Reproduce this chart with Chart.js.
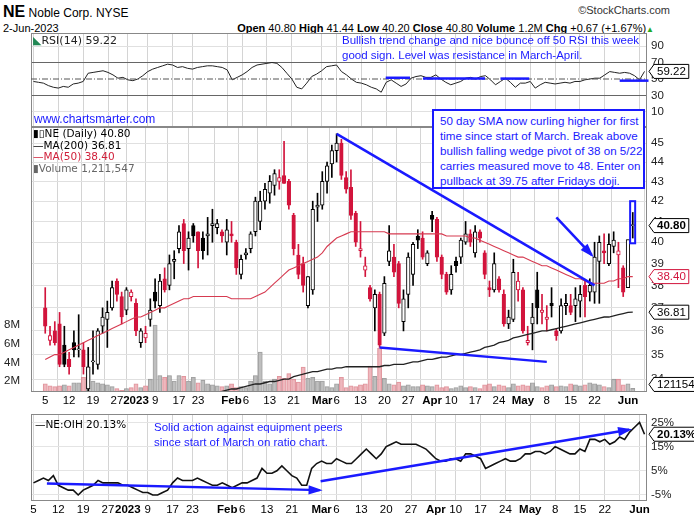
<!DOCTYPE html>
<html><head><meta charset="utf-8">
<script src="https://cdn.jsdelivr.net/npm/chart.js@4/dist/chart.umd.min.js"></script>
<style>
body{margin:0;width:694px;height:530px;background:#fff;font-family:"Liberation Sans",Arial,sans-serif;position:relative;overflow:hidden}
.p{position:absolute;left:0;width:694px}
.t{position:absolute;white-space:nowrap;color:#000}
.blue{color:#1a1aff}
</style></head><body>
<div class="t" style="left:3px;top:3px;font-size:12px"><b style="font-size:16px">NE</b> Noble Corp. NYSE</div>
<div class="t" style="left:3px;top:22px;font-size:11px">2-Jun-2023</div>
<div class="t" style="right:24px;top:4px;font-size:11px;color:#333">©StockCharts.com</div>
<div class="t" style="right:40px;top:22px;font-size:11px"><b>Open</b> 40.80 <b>High</b> 41.44 <b>Low</b> 40.20 <b>Close</b> 40.80 <b>Volume</b> 1.2M <b>Chg</b> +0.67 (+1.67%)<span style="color:#2a2;font-size:8px">▲</span></div>
<div class="p" style="top:33px;height:94px"><canvas id="c1"></canvas></div>
<div class="p" style="top:127px;height:283px"><canvas id="c2"></canvas></div>
<div class="p" style="top:414px;height:105px"><canvas id="c3"></canvas></div>
<div class="t" style="left:33px;top:34px;font-size:11px;font-family:'DejaVu Sans';color:#222"><span style="color:#285">◣</span>RSI(14) 59.22</div>
<div class="t blue" style="left:342px;top:33px;font-size:11.5px;line-height:15px">Bullish trend change and nice bounce off 50 RSI this week<br>good sign. Level was resistance in March-April.</div>
<div class="t blue" style="left:34px;top:112px;font-size:12px">www.chartsmarter.com</div>
<div class="t" style="left:33px;top:128px;font-size:10.5px;line-height:11.5px;font-family:'DejaVu Sans'">▮▯NE (Daily) 40.80<br>—MA(200) 36.81<br><span style="color:#d0203a">—MA(50) 38.40</span><br><span style="color:#666">▮Volume 1,211,547</span></div>
<div class="t blue" style="left:432px;top:109px;width:203px;height:74px;border:2px solid #1a1aff;background:#fff;font-size:11.6px;line-height:15px;padding:2px 0 0 6px">50 day SMA now curling higher for first<br>time since start of March. Break above<br>bullish falling wedge pivot of 38 on 5/22<br>carries measured move to 48. Enter on<br>pullback at 39.75 after Fridays doji.</div>
<div class="t" style="left:35px;top:418px;font-size:10.5px;font-family:'DejaVu Sans'">—NE:OIH 20.13%</div>
<div class="t blue" style="left:154px;top:420px;font-size:11.5px;line-height:15px">Solid action against equipment peers<br>since start of March on ratio chart.</div>
<script>
const tickIdx=[0,5,10,15,19,23,28,32,39,42,47,52,58,61,66,71,76,81,85,90,95,100,105,110,115,122];
const tickLabels=["5","12","19","27","2023","9","17","23","Feb","6","13","21","Mar","6","13","20","27","Apr","10","17","24","May","8","15","22","Jun"];
const boldLabels=["2023","Feb","Mar","Apr","May","Jun"];
// [open, high, low, close]
const candles=[
[37.0,37.9,35.9,36.2],[35.6,36.2,35.4,35.8],[36.0,36.4,35.4,35.5],[36.3,36.8,34.5,34.6],[35.4,36.2,34.5,34.6],
[34.8,35.1,34.2,34.5],[35.5,36.0,34.9,35.2],[35.2,36.7,34.9,35.2],[35.2,35.5,34.2,34.5],[33.6,35.3,33.5,34.5],
[34.7,36.0,34.2,34.7],[34.6,36.1,34.4,36.0],[36.2,37.0,35.9,36.6],[36.5,37.3,35.3,36.8],[37.0,38.2,36.9,37.9],
[38.2,38.3,37.3,37.6],[37.5,37.7,36.3,36.6],[36.9,37.9,36.7,37.8],[37.5,37.8,37.3,37.7],
[37.2,37.4,35.8,36.0],[35.5,36.1,35.3,36.0],[35.7,36.2,35.5,35.9],[36.5,37.4,36.2,36.9],[37.7,38.3,37.0,37.3],
[37.1,38.5,36.8,38.2],[38.3,38.8,37.7,37.8],[38.0,39.4,37.8,39.0],[39.1,39.6,38.3,39.2],[39.7,40.8,39.5,40.5],
[40.9,41.1,39.0,39.6],[39.7,40.5,38.7,40.2],[40.8,40.9,40.0,40.3],[40.5,40.5,38.8,39.6],[40.2,40.5,39.2,39.6],
[40.3,41.2,39.4,40.4],[40.8,41.6,40.0,40.9],[40.7,41.1,40.4,40.9],[40.5,40.6,40.0,40.3],[40.0,41.1,39.4,40.6],
[40.4,41.0,40.0,40.3],[40.0,40.1,38.5,38.8],[38.5,39.4,38.3,39.2],[39.4,39.7,39.2,39.5],[39.7,40.5,39.5,40.4],
[40.5,42.2,40.3,42.0],[41.0,42.5,40.6,42.0],[42.0,42.9,41.6,42.6],[42.4,43.3,41.9,43.0],[42.8,43.6,42.3,43.4],
[43.0,43.6,42.6,43.2],[43.3,45.1,42.9,42.9],[43.0,43.1,41.6,41.8],[41.3,41.4,39.4,39.7],[39.4,39.9,38.3,38.5],
[39.0,39.3,37.7,38.0],[37.1,38.4,37.0,38.4],[37.8,42.0,37.6,41.6],[41.7,42.4,41.0,41.8],
[41.8,43.5,41.6,43.0],[43.0,44.0,42.4,43.8],[43.9,44.9,43.2,44.6],[44.6,45.5,44.0,45.0],[45.0,45.2,43.1,43.3],
[43.2,43.5,42.4,42.6],[42.7,43.6,41.1,41.3],[41.4,41.5,39.8,40.0],[39.6,41.0,39.3,39.7],[38.7,39.3,38.4,38.9],
[37.9,38.0,37.3,37.4],[37.0,37.8,36.0,37.6],[37.6,37.7,35.3,35.4],[35.9,38.4,35.8,38.1],[39.1,40.8,38.9,39.6],
[39.3,39.9,38.4,38.6],[39.0,39.1,37.0,37.2],[36.4,37.8,36.0,37.4],[37.6,39.5,37.0,39.3],[38.5,40.0,38.0,39.9],
[40.3,40.6,39.7,40.1],[40.2,40.5,39.2,39.3],[39.0,39.6,38.9,39.5],
[41.3,41.5,40.5,41.1],[41.1,41.2,39.1,39.3],[39.3,39.4,38.3,38.5],[38.5,38.6,37.6,37.7],[37.8,38.9,37.6,38.5],
[39.1,39.3,38.6,38.9],[39.3,40.2,39.0,40.1],[40.0,41.0,39.9,40.4],[40.4,40.6,39.8,40.0],[39.5,40.8,39.3,40.5],
[40.5,40.6,40.0,40.2],[39.5,39.6,38.3,38.5],[37.9,38.2,37.5,37.8],[37.8,39.5,37.7,39.0],[38.3,38.4,37.7,37.8],
[37.6,37.8,36.2,36.3],[36.3,36.9,36.1,36.6],[36.5,39.2,36.4,38.6],[37.8,38.6,37.3,38.2],
[37.8,37.9,35.9,36.0],[35.5,36.2,35.4,35.6],[36.3,37.2,35.2,36.6],[37.8,38.6,36.3,37.0],[36.8,37.6,36.3,36.9],
[36.5,37.1,36.0,36.6],[37.2,37.9,36.6,37.1],[36.0,36.1,35.6,35.8],[36.0,37.4,35.9,37.1],[37.1,37.6,36.7,37.2],
[37.1,37.6,36.7,36.8],[37.1,37.9,36.4,37.4],[37.3,38.0,36.6,37.6],[38.0,38.2,36.6,37.5],[37.7,38.3,37.3,38.0],
[37.7,40.0,37.2,39.3],[39.1,40.3,37.2,40.0],[39.6,40.4,39.0,39.5],[39.0,40.4,38.9,39.9],[39.8,40.5,39.5,40.1],
[39.4,40.0,37.9,39.6],[38.8,38.9,37.5,37.7],
[37.9,40.1,37.9,40.13],[40.80,41.44,40.20,40.80]];
const volumeM=[1.7,1.5,1.4,1.5,1.6,1.5,1.8,1.8,2.4,3.5,2.0,1.8,1.7,1.6,1.4,1.2,1.0,1.2,1.3,
1.7,1.3,1.5,2.2,8.0,2.6,2.4,2.6,2.0,2.6,2.5,2.0,2.4,1.8,2.1,1.7,1.6,1.5,1.4,1.5,
1.7,1.3,1.4,1.3,2.0,2.6,5.1,2.0,1.7,2.2,2.5,2.3,2.8,2.2,1.9,3.5,2.3,2.4,2.0,
2.0,1.4,1.3,1.7,2.4,1.3,1.5,1.4,1.6,1.7,3.6,2.5,5.5,2.3,1.7,1.6,1.9,1.5,1.6,1.4,1.4,1.6,1.5,
1.4,1.6,1.3,1.4,1.2,1.3,1.5,1.3,1.4,1.3,1.2,1.6,1.7,1.4,1.6,1.5,1.3,1.7,1.5,
1.6,1.5,1.8,1.4,1.3,1.5,1.6,1.4,1.5,1.4,1.7,1.6,1.5,1.6,1.8,1.7,1.6,1.4,1.3,2.2,2.2,1.6,
1.7,1.21];
const ma50=[34.8,34.9,35.0,35.0,35.1,35.2,35.3,35.4,35.5,35.6,35.7,35.8,35.9,36.0,36.1,36.2,36.3,36.4,36.5,
36.6,36.6,36.7,36.8,36.9,37.0,37.0,37.1,37.2,37.3,37.4,37.4,37.5,37.5,37.5,37.5,37.5,37.5,37.5,37.5,
37.4,37.4,37.4,37.4,37.4,37.5,37.6,37.7,37.9,38.1,38.3,38.5,38.7,38.8,38.9,39.0,39.1,39.2,39.3,
39.5,39.8,40.0,40.2,40.3,40.4,40.5,40.5,40.5,40.5,40.5,40.5,40.5,40.5,40.4,40.4,40.4,40.4,40.4,40.4,40.4,40.4,40.4,
40.4,40.4,40.4,40.3,40.3,40.3,40.3,40.3,40.2,40.2,40.1,40.0,39.9,39.8,39.7,39.6,39.5,39.4,39.3,
39.3,39.2,39.1,39.0,38.9,38.9,38.8,38.7,38.6,38.5,38.4,38.3,38.3,38.2,38.1,38.1,38.1,38.1,38.2,38.2,38.3,38.3,
38.4,38.4];
const ma200=[null,null,null,null,null,null,null,null,null,null,null,null,null,null,null,null,null,null,null,
null,null,null,null,null,null,null,null,null,null,null,null,null,null,null,33.35,33.4,33.45,33.5,33.55,
33.6,33.6,33.65,33.7,33.75,33.8,33.8,33.85,33.9,33.9,33.95,34.0,34.0,34.1,34.15,34.2,34.25,34.3,34.3,
34.35,34.4,34.4,34.45,34.45,34.5,34.5,34.5,34.5,34.5,34.5,34.5,34.5,34.55,34.55,34.6,34.6,34.6,34.65,34.7,34.7,34.75,34.8,
34.8,34.85,34.9,34.9,34.95,35.0,35.0,35.05,35.1,35.15,35.2,35.3,35.35,35.4,35.5,35.55,35.6,35.7,35.75,
35.8,35.85,35.9,35.95,36.0,36.0,36.05,36.1,36.15,36.2,36.25,36.3,36.35,36.4,36.45,36.5,36.55,36.6,36.6,36.65,36.7,36.75,
36.8,36.81];
const rsi=[47,46,45,42,40,39,41,40,44,45,47,
57,58,59,60,58,55,51,52,49,48,
50,54,59,62,64,66,68,67,64,65,
63,62,64,65,66,66,65,64,61,49,
52,55,59,64,67,68,69,70,69,64,
57,50,40,38,45,53,56,60,65,66,
67,59,55,50,46,45,43,40,38,34,
46,49,45,41,44,51,53,54,52,52,
55,50,46,43,45,47,51,52,50,53,
54,49,43,47,51,46,40,45,45,47,
39,43,46,45,44,45,46,45,47,47,
49,50,51,51,55,59,58,57,58,57,54,49,59.22];
const ratioPct=[0,1,2,1,3,-1,-2,-3,-3,-5,-3,
-2,-1,1,0,0,0,0,-1,-1,-2,
-3,-4,-4,-5,-5,-4,-3,0,2,1,
1,1,2,1,0,-1,-1,0,-1,-2,
-1,0,0,1,2,6,4,4,5,7,
5,3,2,-1,-1,6,8,9,8,8,
10,9,8,8,10,12,14,12,10,12,
15,16,17,16,16,16,16,15,14,12,
10,9,9,10,10,9,12,12,11,10,
6,7,8,9,10,9,9,10,12,12,
13,13,12,13,15,14,13,12,12,14,
13,18,18,17,18,16,17,19,18,21,23,25,20.13];
const wedgeTop=[[61,45.5],[115,38.0]], wedgeBottom=[[70,35.3],[105,34.7]];
const priceArrow=[[107,41.2],[114.4,39.4]];
const rsiLevels=[[70.9,75.8,51.5],[78.4,90.9,50.5],[94,99.8,50.5],[118,123.8,48]];
const ratioArrows=[[[2.7,-0.3],[57.6,-3]],[[57.8,0.7],[119.9,22]]];

const RED='#d2143c', BLUE='#1a1aff';
const N=candles.length;
const col=i=>{const c=candles[i][3],p=i?candles[i-1][3]:candles[i][0];return c<p?RED:'#000';};
const hollow=i=>candles[i][3]>=candles[i][0];
const XMIN=-0.5,XMAX=N-0.5;
const noPadV=s=>{s.paddingTop=0;s.paddingBottom=0;};
function xScale(h,extra){return Object.assign({type:'linear',min:XMIN,max:XMAX,
 afterBuildTicks:s=>{s.ticks=tickIdx.map(v=>({value:v}));},
 afterFit:s=>{s.height=h;s.paddingLeft=0;s.paddingRight=0;},
 grid:{color:'#d4d4d4',drawTicks:false},border:{display:false},
 ticks:{autoSkip:false,maxRotation:0,padding:2,color:'#000',callback:v=>{const k=tickIdx.indexOf(v);return k<0?'':tickLabels[k];},
  font:c=>({family:'Liberation Sans',size:11.5,weight:(c.tick&&boldLabels.includes(tickLabels[tickIdx.indexOf(c.tick.value)]))?'bold':'normal'})}},extra||{});}
function rightAxis(extra){return Object.assign({position:'right',afterFit:s=>{s.width=47;noPadV(s);},border:{display:false},
 ticks:{color:'#222',padding:4,font:{family:'Liberation Sans',size:11.5}},grid:{color:'#e0e0e0',drawTicks:false}},extra);}
function tag(ctx,x,y,text,color,bold){ctx.save();ctx.font=(bold?'bold ':'')+'11.5px Liberation Sans';
 const w=ctx.measureText(text).width+6;ctx.fillStyle='#fff';ctx.strokeStyle=color;ctx.lineWidth=1;
 ctx.beginPath();ctx.moveTo(x,y);ctx.lineTo(x+5,y-7);ctx.lineTo(x+5+w,y-7);ctx.lineTo(x+5+w,y+7);ctx.lineTo(x+5,y+7);ctx.closePath();ctx.fill();ctx.stroke();
 ctx.fillStyle=color;ctx.textBaseline='middle';ctx.fillText(text,x+8,y+0.5);ctx.restore();}
function arrow(ctx,x1,y1,x2,y2,w){ctx.save();ctx.strokeStyle=BLUE;ctx.fillStyle=BLUE;ctx.lineWidth=w;ctx.beginPath();ctx.moveTo(x1,y1);ctx.lineTo(x2,y2);ctx.stroke();
 const a=Math.atan2(y2-y1,x2-x1),L=12;ctx.beginPath();ctx.moveTo(x2+3*Math.cos(a),y2+3*Math.sin(a));ctx.lineTo(x2-L*Math.cos(a-0.4),y2-L*Math.sin(a-0.4));ctx.lineTo(x2-L*Math.cos(a+0.4),y2-L*Math.sin(a+0.4));ctx.closePath();ctx.fill();ctx.restore();}
const extraDraw={};
const frame={id:'frame',afterDraw(ch){const c=ch.chartArea,ctx=ch.ctx;ctx.save();ctx.strokeStyle='#888';ctx.lineWidth=1;ctx.strokeRect(c.left+0.5,c.top+0.5,c.width-1,c.height-1);ctx.restore();const f=extraDraw[ch.canvas.id];if(f)f(ch);}};
Chart.defaults.animation=false;Chart.defaults.responsive=true;Chart.defaults.maintainAspectRatio=false;
Chart.defaults.plugins.legend.display=false;Chart.defaults.plugins.tooltip.enabled=false;
Chart.defaults.layout.padding=0;

extraDraw.c1=ch=>{const x=ch.scales.x,y=ch.scales.y,ctx=ch.ctx;
   ctx.save();ctx.strokeStyle='#555';ctx.lineWidth=1;ctx.setLineDash([6,2,1,2]);ctx.beginPath();ctx.moveTo(x.left,y.getPixelForValue(50));ctx.lineTo(x.right,y.getPixelForValue(50));ctx.stroke();ctx.restore();
   ctx.save();ctx.strokeStyle=BLUE;ctx.lineWidth=2.5;rsiLevels.forEach(s=>{ctx.beginPath();ctx.moveTo(x.getPixelForValue(s[0]),y.getPixelForValue(s[2]));ctx.lineTo(x.getPixelForValue(s[1]),y.getPixelForValue(s[2]));ctx.stroke();});ctx.restore();
   tag(ctx,x.right+2,y.getPixelForValue(59.22),'59.22','#000',false);};
extraDraw.c2=ch=>{const x=ch.scales.x,y=ch.scales.y,ctx=ch.ctx,P=p=>[x.getPixelForValue(p[0]),y.getPixelForValue(p[1])];
   ctx.save();ctx.strokeStyle=BLUE;ctx.lineWidth=2.5;[wedgeTop,wedgeBottom].forEach(l=>{const a=P(l[0]),b=P(l[1]);ctx.beginPath();ctx.moveTo(a[0],a[1]);ctx.lineTo(b[0],b[1]);ctx.stroke();});
   const r1=P([N-1.55,42.0]),r2=P([N-0.5,39.95]);ctx.lineWidth=2;ctx.strokeRect(r1[0],r1[1],r2[0]-r1[0],r2[1]-r1[1]);ctx.restore();
   const a=P(priceArrow[0]),b=P(priceArrow[1]);arrow(ctx,a[0],a[1],b[0],b[1],2.5);
   tag(ctx,x.right+2,y.getPixelForValue(40.8),'40.80','#000',true);
   tag(ctx,x.right+2,y.getPixelForValue(38.4),'38.40',RED,false);
   tag(ctx,x.right+2,y.getPixelForValue(36.81),'36.81','#000',false);
   tag(ctx,x.right+2,ch.scales.yv.getPixelForValue(1.21e6)-4,'1211547','#000',false);};
extraDraw.c3=ch=>{const x=ch.scales.x,y=ch.scales.y,ctx=ch.ctx;
   ratioArrows.forEach(l=>arrow(ctx,x.getPixelForValue(l[0][0]),y.getPixelForValue(l[0][1]),x.getPixelForValue(l[1][0]),y.getPixelForValue(l[1][1]),2.5));
   tag(ctx,x.right+2,y.getPixelForValue(20.13),'20.13%','#000',true);};

// RSI
new Chart(document.getElementById('c1'),{type:'line',
 data:{datasets:[{data:rsi.map((v,i)=>({x:i,y:v})),borderColor:'#222',borderWidth:1,pointRadius:0,tension:0}]},
 options:{layout:{padding:{left:31}},
  scales:{x:xScale(0,{ticks:{display:false}}),
   y:rightAxis({min:-8.2,max:105.8,afterBuildTicks:s=>{s.ticks=[10,30,50,70,90].map(v=>({value:v}));},
    grid:{drawTicks:false,color:c=>c.tick&&(c.tick.value===70||c.tick.value===30)?'#666':(c.tick&&c.tick.value===50?'rgba(0,0,0,0)':'#e0e0e0')}})}},
 plugins:[frame]});

// Price
const wicks=candles.map((c,i)=>({x:i,y:[c[2],c[1]]}));
const bodies=candles.map((c,i)=>({x:i,y:[Math.min(c[0],c[3]),Math.max(c[0],c[3])]}));
new Chart(document.getElementById('c2'),{type:'bar',
 data:{datasets:[
  {type:'line',data:ma200.map((v,i)=>({x:i,y:v})),borderColor:'#222',borderWidth:1.3,pointRadius:0,order:1,yAxisID:'y'},
  {type:'line',data:ma50.map((v,i)=>({x:i,y:v})),borderColor:'#d63a50',borderWidth:1.1,pointRadius:0,order:1,yAxisID:'y'},
  {data:bodies,yAxisID:'y',grouped:false,barThickness:3.6,minBarLength:1,order:2,
   backgroundColor:candles.map((c,i)=>hollow(i)?'#fff':col(i)),borderColor:candles.map((c,i)=>col(i)),borderWidth:1,borderSkipped:false},
  {data:wicks,yAxisID:'y',grouped:false,barThickness:1,order:3,backgroundColor:candles.map((c,i)=>col(i))},
  {data:volumeM.map((v,i)=>({x:i,y:v*1e6})),yAxisID:'yv',grouped:false,barThickness:4.2,order:5,
   backgroundColor:candles.map((c,i)=>col(i)===RED?'rgba(232,160,168,0.75)':'rgba(175,175,175,0.8)'),
   borderColor:candles.map((c,i)=>col(i)===RED?'rgba(215,120,130,0.8)':'rgba(130,130,130,0.8)'),borderWidth:0.6}]},
 options:{
  scales:{x:xScale(18),
   y:rightAxis({type:'logarithmic',min:33.48,max:45.87,afterBuildTicks:s=>{s.ticks=[34,35,36,37,38,39,40,41,42,43,44,45].map(v=>({value:v}));},
     ticks:{color:'#222',padding:4,font:{family:'Liberation Sans',size:11.5},callback:v=>String(v)}}),
   yv:{position:'left',min:0.83e6,max:29.2e6,afterFit:s=>{s.width=31;noPadV(s);},grid:{display:false},border:{display:false},
     afterBuildTicks:s=>{s.ticks=[2e6,4e6,6e6,8e6].map(v=>({value:v}));},
     ticks:{color:'#222',padding:3,font:{family:'Liberation Sans',size:11.5},callback:v=>(v/1e6)+'M'}}}},
 plugins:[frame]});

// Ratio
new Chart(document.getElementById('c3'),{type:'line',
 data:{datasets:[{data:ratioPct.map((v,i)=>({x:i,y:v})),borderColor:'#111',borderWidth:1.6,pointRadius:0,tension:0}]},
 options:{layout:{padding:{left:31}},
  scales:{x:xScale(18),
   y:rightAxis({min:-7.5,max:28.5,afterBuildTicks:s=>{s.ticks=[-5,0,5,10,15,20,25].map(v=>({value:v}));},
    ticks:{color:'#222',padding:4,font:{family:'Liberation Sans',size:11.5},callback:v=>v+'%'},
    grid:{drawTicks:false,color:c=>c.tick&&c.tick.value===0?'#777':'#e4e4e4'}})}},
 plugins:[frame]});
</script></body></html>
